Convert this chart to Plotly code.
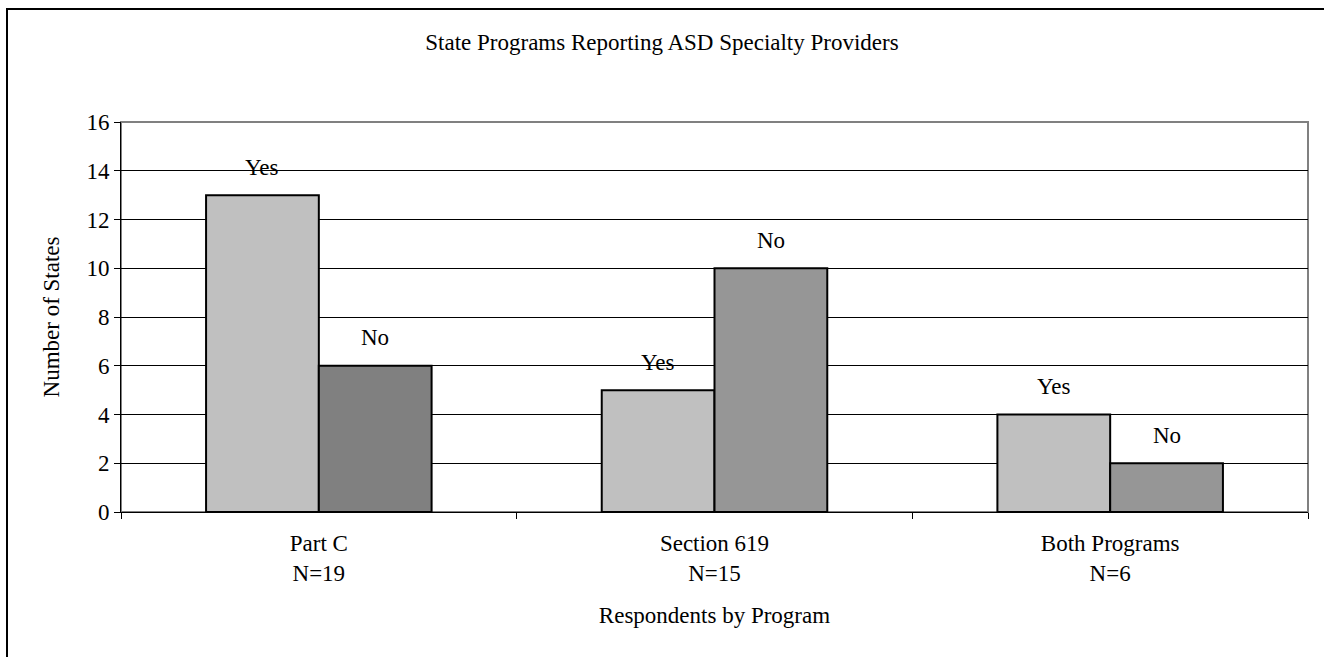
import plotly.graph_objects as go

categories = ["Part C<br>N=19", "Section 619<br>N=15", "Both Programs<br>N=6"]
yes_values = [13, 5, 4]
no_values = [6, 10, 2]
yes_label = "Yes"
no_label = "No"
yes_color = "#C0C0C0"
no_colors = ["#808080", "#969696", "#969696"]
y_ticks = [0, 2, 4, 6, 8, 10, 12, 14, 16]

FONT = "Liberation Serif, Times New Roman, serif"
FS = 23

fig = go.Figure()
fig.add_trace(go.Bar(x=categories, y=yes_values, name=yes_label,
                     marker=dict(color=yes_color, line=dict(color="black", width=2))))
fig.add_trace(go.Bar(x=categories, y=no_values, name=no_label,
                     marker=dict(color=no_colors, line=dict(color="black", width=2))))

annotations = []
for i, c in enumerate(categories):
    annotations.append(dict(x=c, y=yes_values[i], text=yes_label, xref="x", yref="y",
                            showarrow=False, xshift=-56.5, yshift=28, yanchor="middle",
                            font=dict(family=FONT, size=FS, color="black")))
    annotations.append(dict(x=c, y=no_values[i], text=no_label, xref="x", yref="y",
                            showarrow=False, xshift=56.5, yshift=28, yanchor="middle",
                            font=dict(family=FONT, size=FS, color="black")))

fig.update_layout(
    width=1324, height=657,
    margin=dict(l=121, r=16, t=122, b=145),
    paper_bgcolor="white", plot_bgcolor="white",
    barmode="group", bargap=0.43, bargroupgap=0,
    showlegend=False,
    font=dict(family=FONT, size=FS, color="black"),
    title=dict(text="State Programs Reporting ASD Specialty Providers",
               x=0.5, xanchor="center", y=1 - 42/657, yanchor="middle",
               font=dict(family=FONT, size=FS, color="black")),
    annotations=annotations,
    shapes=[
        dict(type="rect", xref="paper", yref="paper",
             x0=(7-121)/1187, x1=(1330-121)/1187, y0=(512-670)/390, y1=(512-9)/390,
             line=dict(color="black", width=2), fillcolor="rgba(0,0,0,0)", layer="below"),
        dict(type="rect", xref="paper", yref="paper", x0=0, x1=1, y0=0, y1=1,
             line=dict(color="#808080", width=2), fillcolor="rgba(0,0,0,0)", layer="below"),
    ],
)

fig.update_yaxes(range=[0, 16], tickvals=y_ticks, ticks="outside", ticklen=6,
                 tickcolor="black", showline=True, linecolor="black", linewidth=1,
                 showgrid=True, gridcolor="black", gridwidth=1, zeroline=False,
                 tickfont=dict(family=FONT, size=FS, color="black"),
                 title=dict(text="Number of States", font=dict(family=FONT, size=FS, color="black"),
                            standoff=20))
fig.update_xaxes(ticks="outside", tickson="boundaries", ticklen=6, tickcolor="black",
                 showline=True, linecolor="black", linewidth=1, ticklabelstandoff=10,
                 tickfont=dict(family=FONT, size=FS, color="black"),
                 title=dict(text="Respondents by Program", font=dict(family=FONT, size=FS, color="black"),
                            standoff=22))

fig.write_html("out.html", config={"displayModeBar": False},
               post_script="document.body.style.margin='0';")
